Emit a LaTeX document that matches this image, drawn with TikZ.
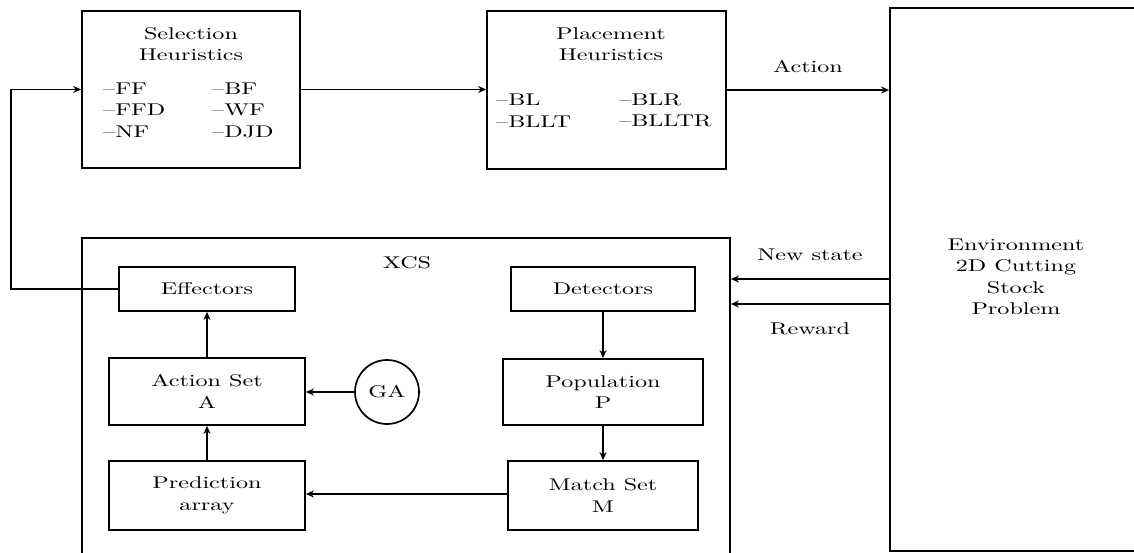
\documentclass[tikz,border=0pt]{standalone}
\usepackage{fontspec}
\setmainfont{lmroman10-regular}[Extension=.otf, FakeStretch=1.42]
\usetikzlibrary{arrows.meta}
\begin{document}
\begin{tikzpicture}[x=1pt, y=-1pt,
  every node/.style={font=\fontsize{17}{21.5}\selectfont, inner sep=0pt},
  box/.style={draw, line width=1.7pt, rectangle},
  lbl/.style={align=center},
  items/.style={align=left, anchor=west},
  conn/.style={line width=1.7pt, -{Stealth[length=8pt, width=7pt, inset=2.5pt]}}]
\useasboundingbox (0,0) rectangle (1134,553);

% top row: heuristic boxes
\node[box, minimum width=218pt, minimum height=157pt] (sel) at (191,89.5) {};
\node[lbl] (selt) at (191,44) {Selection\\Heuristics};
\node[items] (sela) at (103,110) {--FF\\--FFD\\--NF};
\node[items] (selb) at (212,110) {--BF\\--WF\\--DJD};

\node[box, minimum width=239pt, minimum height=158pt] (pla) at (606.5,90) {};
\node[lbl] (plat) at (611,44) {Placement\\Heuristics};
\node[items] (plaa) at (496,110.5) {--BL\\--BLLT};
\node[items] (plab) at (619,110.5) {--BLR\\--BLLTR};

% environment and XCS frames run past the page edge
\begin{scope}
  \clip (0,0) rectangle (1134,553);
  \node[box, minimum width=252pt, minimum height=543pt] (env) at (1016,279.5) {};
  \node[box, minimum width=648pt, minimum height=340pt] (xcs) at (406,408) {};
\end{scope}
\node[lbl] (envt) at (1016,277) {Environment\\2D Cutting\\Stock\\Problem};
\node (xcst) at (407,263) {XCS};

% XCS components
\node[box, minimum width=176pt, minimum height=44pt] (eff) at (207,289) {Effectors};
\node[box, minimum width=184pt, minimum height=44pt] (det) at (603,289) {Detectors};
\node[box, lbl, minimum width=196pt, minimum height=67pt] (act) at (207,391.5) {Action Set\\A};
\node[draw, circle, line width=1.7pt, minimum size=64pt] (ga) at (387,392) {GA};
\node[box, lbl, minimum width=200pt, minimum height=66pt] (pop) at (603,392) {Population\\P};
\node[box, lbl, minimum width=196pt, minimum height=69pt] (pre) at (207,495.5) {Prediction\\array};
\node[box, lbl, minimum width=190pt, minimum height=69pt] (mat) at (603,495.5) {Match Set\\M};

% connectors
\coordinate (loopx) at (11,0);
\draw[conn] (eff.west) -- (eff.west -| loopx) -- (sel.west -| loopx) -- (sel.west);
\draw[conn] (sel.east) -- (sel.east -| pla.west);
\draw[conn] (pla.east) -- (pla.east -| env.west)
  node[midway, above=16pt] (actl) {Action};
\coordinate (ns) at (env.west |- 0,279);
\coordinate (rw) at (env.west |- 0,304);
\draw[conn] (ns) -- (ns -| xcs.east) node[midway, above=17pt] (nsl) {New state};
\draw[conn] (rw) -- (rw -| xcs.east) node[midway, below=18pt] (rwl) {Reward};

\draw[conn] (act.north) -- (eff.south);
\draw[conn] (pre.north) -- (act.south);
\draw[conn] (ga.west) -- (ga.west -| act.east);
\draw[conn] (det.south) -- (pop.north);
\draw[conn] (pop.south) -- (mat.north);
\draw[conn] (mat.west |- 0,494) -- (pre.east |- 0,494);
\end{tikzpicture}
\end{document}
